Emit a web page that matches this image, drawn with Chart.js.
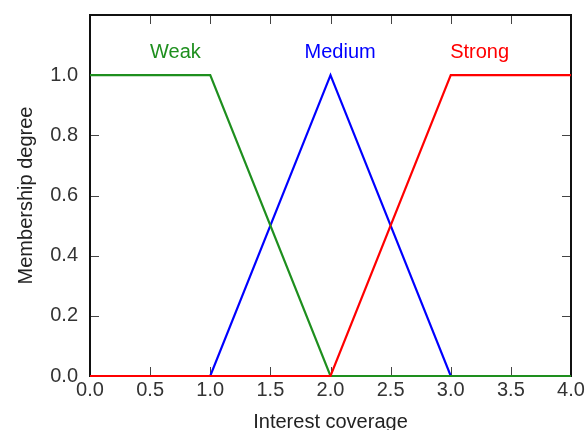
<!DOCTYPE html>
<html>
<head>
<meta charset="utf-8">
<script src="https://cdn.jsdelivr.net/npm/chart.js@4/dist/chart.umd.min.js"></script>
<style>
  html, body { margin: 0; padding: 0; background: #fff; }
  #wrap { width: 587px; height: 430px; }
</style>
</head>
<body>
<div id="wrap"><canvas id="myChart" width="587" height="430"></canvas></div>
<script>
// membership functions (breakpoints)
var weakX = [0, 1, 2, 4];
var weakY = [1, 1, 0, 0];
var mediumX = [0, 1, 2, 3, 4];
var mediumY = [0, 0, 1, 0, 0];
var strongX = [0, 2, 3, 4];
var strongY = [0, 0, 1, 1];

var xTicks = [0, 0.5, 1, 1.5, 2, 2.5, 3, 3.5, 4];
var yTicks = [0, 0.2, 0.4, 0.6, 0.8, 1.0];

function pts(xs, ys) {
    return xs.map(function (x, i) { return { x: x, y: ys[i] }; });
}

var FONT = '"Liberation Sans", Arial, sans-serif';

// text labels above each curve, in data coordinates
var curveLabels = [
    { text: 'Weak', x: 0.71, y: 1.077, color: '#1e8f1e' },
    { text: 'Medium', x: 2.08, y: 1.077, color: '#0000ff' },
    { text: 'Strong', x: 3.24, y: 1.077, color: '#ff0000' }
];

// matplotlib-ish frame with inward ticks on all four sides
var framePlugin = {
    id: 'frame',
    beforeDatasetsDraw: function (chart) {
        var c = chart.ctx, a = chart.chartArea;
        var xs = chart.scales.x, ys = chart.scales.y;
        var len = 9;
        c.save();
        c.strokeStyle = '#444';
        c.lineWidth = 1;
        c.beginPath();
        xTicks.forEach(function (v) {
            var px = Math.round(xs.getPixelForValue(v)) + 0.5;
            c.moveTo(px, a.bottom); c.lineTo(px, a.bottom - len);
            c.moveTo(px, a.top); c.lineTo(px, a.top + len);
        });
        yTicks.forEach(function (v) {
            var py = Math.round(ys.getPixelForValue(v)) + 0.5;
            c.moveTo(a.left, py); c.lineTo(a.left + len, py);
            c.moveTo(a.right, py); c.lineTo(a.right - len, py);
        });
        c.stroke();
        c.strokeStyle = '#111';
        c.lineWidth = 2;
        c.strokeRect(a.left, a.top, a.right - a.left, a.bottom - a.top);
        c.restore();
    },
    afterDatasetsDraw: function (chart) {
        var c = chart.ctx;
        var xs = chart.scales.x, ys = chart.scales.y;
        c.save();
        c.font = '20px ' + FONT;
        c.textAlign = 'center';
        c.textBaseline = 'middle';
        curveLabels.forEach(function (l) {
            c.fillStyle = l.color;
            c.fillText(l.text, xs.getPixelForValue(l.x), ys.getPixelForValue(l.y));
        });
        c.restore();
    }
};

function noPad(s) {
    s.paddingTop = 0; s.paddingBottom = 0;
    s.paddingLeft = 0; s.paddingRight = 0;
}

var ctx = document.getElementById('myChart').getContext('2d');
var chart = new Chart(ctx, {
    type: 'line',
    data: {
        datasets: [{
            label: 'Strong',
            data: pts(strongX, strongY),
            borderColor: '#ff0000',
            clip: false,
            order: 0
        }, {
            label: 'Weak',
            data: pts(weakX, weakY),
            borderColor: '#1e8f1e',
            clip: false,
            order: 1
        }, {
            label: 'Medium',
            data: pts(mediumX, mediumY),
            borderColor: '#0000ff',
            clip: false,
            order: 2
        }]
    },
    options: {
        responsive: false,
        animation: false,
        layout: { padding: { left: 0, right: 16, top: 15, bottom: 0 } },
        elements: {
            line: { borderWidth: 2.2, tension: 0, fill: false },
            point: { radius: 0 }
        },
        plugins: {
            legend: { display: false },
            tooltip: { enabled: false }
        },
        scales: {
            x: {
                type: 'linear',
                min: 0,
                max: 4,
                afterFit: function (s) { s.height = 54; noPad(s); },
                afterBuildTicks: function (s) { s.ticks = xTicks.map(function (v) { return { value: v }; }); },
                grid: { display: false, drawTicks: false },
                border: { display: false },
                ticks: {
                    autoSkip: false,
                    maxRotation: 0,
                    padding: 4,
                    color: '#333',
                    font: { family: FONT, size: 20, lineHeight: 1 },
                    callback: function (v) { return v.toFixed(1); }
                },
                title: {
                    display: true,
                    text: 'Interest coverage',
                    color: '#222',
                    padding: { top: 0, bottom: -2 },
                    font: { family: FONT, size: 20, lineHeight: 1 }
                }
            },
            y: {
                min: 0,
                max: 1.2,
                afterFit: function (s) { s.width = 90; noPad(s); },
                afterBuildTicks: function (s) { s.ticks = yTicks.map(function (v) { return { value: v }; }); },
                grid: { display: false, drawTicks: false },
                border: { display: false },
                ticks: {
                    padding: 12,
                    color: '#333',
                    font: { family: FONT, size: 20, lineHeight: 1 },
                    callback: function (v) { return v.toFixed(1); }
                },
                title: {
                    display: true,
                    text: 'Membership degree',
                    color: '#222',
                    padding: { top: 16, bottom: 0 },
                    font: { family: FONT, size: 20, lineHeight: 1 }
                }
            }
        }
    },
    plugins: [framePlugin]
});
</script>
</body>
</html>
